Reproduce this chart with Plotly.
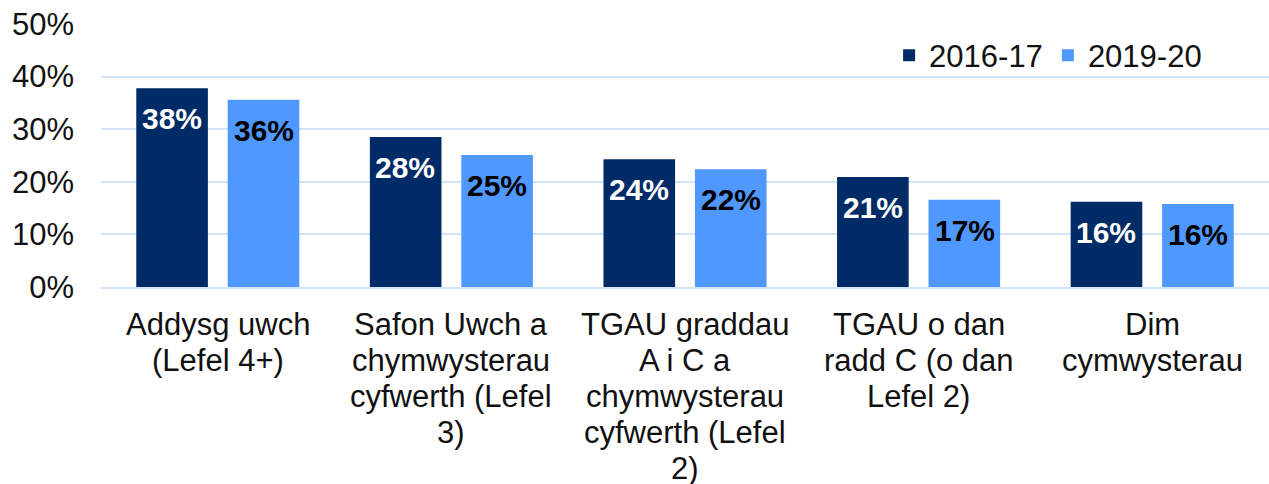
import plotly.graph_objects as go

categories = [
    "Addysg uwch<br>(Lefel 4+)",
    "Safon Uwch a<br>chymwysterau<br>cyfwerth (Lefel<br>3)",
    "TGAU graddau<br>A i C a<br>chymwysterau<br>cyfwerth (Lefel<br>2)",
    "TGAU o dan<br>radd C (o dan<br>Lefel 2)",
    "Dim<br>cymwysterau",
]
series_names = ["2016-17", "2019-20"]
values_2016_17 = [0.378, 0.285, 0.243, 0.209, 0.162]
values_2019_20 = [0.356, 0.251, 0.224, 0.166, 0.158]
y_ticks = [0, 0.1, 0.2, 0.3, 0.4, 0.5]

DARK = "#012B67"
LIGHT = "#4F98FF"
GRID = "#D3E4F8"
TXT = "#111111"
FONT = "Liberation Sans, Arial, sans-serif"

fig = go.Figure()
for name, vals, col in [(series_names[0], values_2016_17, DARK), (series_names[1], values_2019_20, LIGHT)]:
    fig.add_trace(go.Bar(x=categories, y=vals, name=name, marker=dict(color=col, line=dict(width=0)),
                         hoverinfo="skip"))

annotations = []
# value labels inside bars, near the top
for vals, shift, tcol in [(values_2016_17, -46, "white"), (values_2019_20, 46, "black")]:
    for c, v in zip(categories, vals):
        annotations.append(dict(x=c, y=v, xref="x", yref="y", text=f"{int(v*100+0.5)}%",
                                showarrow=False, xshift=shift, yanchor="top", yshift=-12,
                                font=dict(family=FONT, size=30, color=tcol, weight="bold")))
# category labels (one annotation per line for tighter line spacing)
for c in categories:
    for i, line in enumerate(c.split("<br>")):
        annotations.append(dict(x=c, y=0, xref="x", yref="y", text=line, showarrow=False,
                                yanchor="top", yshift=-18 - 36 * i,
                                font=dict(family=FONT, size=31, color=TXT)))

fig.update_layout(
    width=1269, height=484,
    margin=dict(l=101, r=0, t=24, b=197),
    paper_bgcolor="white", plot_bgcolor="white",
    barmode="group", bargap=0.217, bargroupgap=0.217,
    font=dict(family=FONT, size=31, color=TXT),
    showlegend=True,
    legend=dict(orientation="h", x=0.947, xanchor="right", y=0.88, yanchor="middle",
                font=dict(size=31, color=TXT), bgcolor="rgba(0,0,0,0)",
                traceorder="normal"),
    annotations=annotations,
)
fig.update_yaxes(range=[0, 0.5], tickvals=y_ticks, tickformat=".0%", showgrid=True,
                 gridcolor=GRID, gridwidth=2, zeroline=False, showline=False,
                 ticks="", ticklabelstandoff=26, tickfont=dict(size=31, color=TXT))
fig.update_xaxes(showline=True, linecolor=GRID, linewidth=2, ticks="", showgrid=False,
                 showticklabels=False)

fig.write_html("out.html", config={"displayModeBar": False},
               post_script="document.body.style.margin='0';")
